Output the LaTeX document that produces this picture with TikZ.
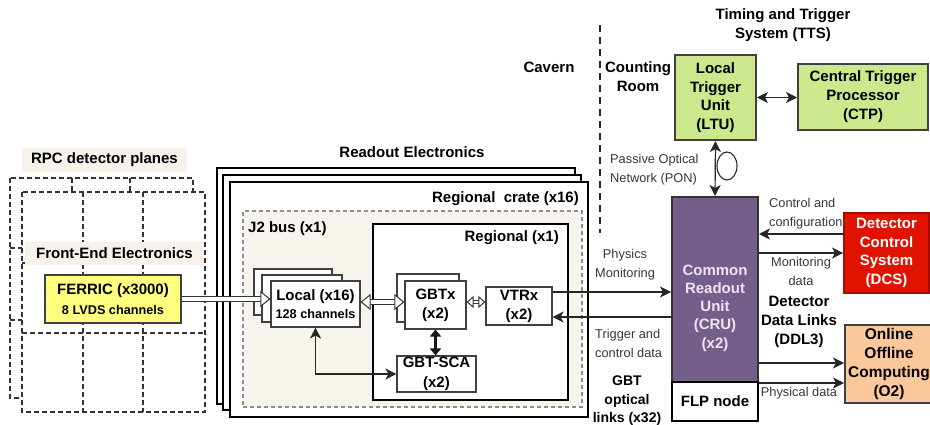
\documentclass[tikz,border=0pt]{standalone}
\usepackage{fontspec}
\setmainfont{Liberation Sans}
\usetikzlibrary{arrows.meta}
\definecolor{beige}{RGB}{246,242,234}
\definecolor{jbeige}{RGB}{247,244,237}
\definecolor{ltugreen}{RGB}{205,232,140}
\definecolor{crupurple}{RGB}{116,94,138}
\definecolor{crutext}{RGB}{236,228,246}
\definecolor{dcsred}{RGB}{224,18,0}
\definecolor{dcsborder}{RGB}{170,10,0}
\definecolor{opeach}{RGB}{250,200,155}
\definecolor{ferricy}{RGB}{255,255,128}
\definecolor{txtgray}{RGB}{55,55,55}
\newcommand\mybf{\fontsize{15}{19}\selectfont\bfseries}
\newcommand\myrg{\fontsize{12.8}{19}\selectfont}
\newcommand\mysm{\fontsize{12.7}{18}\selectfont\bfseries}
\tikzset{
  HTip/.tip={Triangle[length=10pt,width=16pt,color=black!80,fill=white,line width=1pt]},
  STip/.tip={Triangle[length=7pt,width=12pt,color=black!80,fill=white,line width=1pt]},
  ATip/.tip={Stealth[length=11pt,width=11pt,inset=3pt]},
}
\begin{document}
\begin{tikzpicture}[x=1pt,y=-1pt,
  sz/.style 2 args={minimum width=#1, minimum height=#2},
  rpc/.style={draw=black!80, line width=1.1pt, dash pattern=on 5pt off 3pt},
  lbg/.style={fill=beige, inner sep=0pt, font=\mybf},
  crate/.style={draw=black, line width=2.5pt, fill=white, inner sep=0pt},
  thinbox/.style={draw=black!75, line width=1.1pt, fill=white, inner sep=0pt, align=center, font=\mybf},
  colbox/.style={draw=black!75, line width=2pt, inner sep=0pt, align=center, font=\mybf},
  lab/.style={inner sep=0pt, align=center, font=\mybf},
  rlab/.style={inner sep=0pt, font=\myrg, text=txtgray},
  arr/.style={draw=black!85, line width=1.2pt, -{ATip}},
  arrb/.style={draw=black!85, line width=1.2pt, {ATip}-{ATip}},
  dbl/.style={draw=black!80, double=white, double distance=3.5pt, line width=1pt},
  otip/.style={white, line width=1pt},
]
\useasboundingbox (0,0) rectangle (930,425);

% ---------------- RPC detector planes ----------------
\draw[rpc] (10,178) rectangle (193,398);
\draw[rpc] (72,178) -- (72,398) (130,178) -- (130,398) (10,248) -- (193,248) (10,320) -- (193,320);
\draw[rpc, fill=white] (22,192) rectangle (205,412);
\draw[rpc] (83,192) -- (83,412) (143,192) -- (143,412) (22,263) -- (205,263) (22,333) -- (205,333);

\node[lbg, sz={165}{24}] (rpclab) at (104.5,160) {RPC detector planes};
\node[lbg, sz={179}{23}] (felab) at (114.5,253.5) {Front-End Electronics};
\node[colbox, fill=ferricy, sz={136}{48}, font=\fontsize{15}{20}\selectfont\bfseries] (ferric) at (113,299)
  {FERRIC (x3000)\\{\mysm 8 LVDS channels}};

% ---------------- Readout electronics ----------------
\node[lab] (rolab) at (412,152) {Readout Electronics};
\node[crate, sz={358}{236}] (crate1) at (396,286) {};
\node[crate, sz={358}{235}] (crate2) at (402,292.5) {};
\node[crate, sz={358}{235}] (crate3) at (409,299.5) {};
\node[lab, anchor=east] (cratelab) at (579,199) {Regional\ \ crate (x16)};

\node[draw=black!45, line width=1.1pt, dash pattern=on 4pt off 3pt, fill=jbeige, sz={339}{196}, inner sep=0pt] (j2) at (412.5,309) {};
\node[lab, anchor=west] (j2lab) at (248,229) {J2 bus (x1)};

\node[draw=black, line width=2.5pt, fill=white, sz={195}{176}, inner sep=0pt] (regional) at (470.5,312) {};
\node[lab, anchor=east] (reglab) at (559,238) {Regional (x1)};

% Local stack
\node[thinbox, sz={78}{46}] (localb) at (293,292) {};
\node[thinbox, sz={80}{47}] (localm) at (302,298.5) {};
\node[thinbox, sz={89}{46}, font=\fontsize{15}{18}\selectfont\bfseries] (localf) at (315.5,304)
  {Local (x16)\\{\mysm 128 channels}};

% GBTx stack
\node[thinbox, sz={62}{48}] (gbtxb) at (428,298) {};
\node[thinbox, sz={61}{48}] (gbtxf) at (435.5,305) {GBTx\\(x2)};
\node[thinbox, sz={66}{38}] (vtrx) at (519,306) {VTRx\\(x2)};
\node[thinbox, sz={79}{36}, font=\fontsize{15}{20}\selectfont\bfseries] (sca) at (436.5,374) {GBT-SCA\\(x2)};

% ---------------- Counting room ----------------
\draw[draw=black!85, line width=2.5pt, dash pattern=on 7pt off 5pt] (600,25) -- (600,233);
\node[lab] (cavern) at (549,67) {Cavern};
\node[lab] (counting) at (638,76.5) {Counting\\Room};
\node[lab] (tts) at (783,25.5) {Timing and Trigger\\System (TTS)};

\node[colbox, fill=ltugreen, sz={81}{85}, font=\fontsize{15}{18.7}\selectfont\bfseries] (ltu) at (715.5,97.5) {Local\\Trigger\\Unit\\(LTU)};
\node[colbox, fill=ltugreen, sz={130}{66}, font=\fontsize{15}{19}\selectfont\bfseries] (ctp) at (863,97) {Central Trigger\\Processor\\(CTP)};

\node[draw=black!80, line width=2pt, fill=crupurple, sz={86}{185}, inner sep=0pt] (cru) at (715,289.5) {};
\node[lab, text=crutext, font=\fontsize{15}{18.3}\selectfont\bfseries] (crulab) at (715,308) {Common\\Readout\\Unit\\(CRU)\\(x2)};
\node[draw=black, line width=2.5pt, fill=white, sz={86}{39}, inner sep=0pt, font=\mybf] (flp) at (715,401.5) {FLP node};

\node[draw=dcsborder, line width=2pt, fill=dcsred, sz={85}{80}, inner sep=0pt, align=center, text=white, font=\fontsize{15}{18.7}\selectfont\bfseries] (dcs) at (886.5,253) {Detector\\Control\\System\\(DCS)};
\node[colbox, fill=opeach, sz={88}{78}, font=\fontsize{15.5}{18.7}\selectfont\bfseries] (o2) at (889,364) {Online\\Offline\\Computing\\(O2)};

% labels
\node[rlab, align=left, anchor=west] (ponlab) at (610,169.5) {Passive Optical\\Network (PON)};
\node[rlab, align=center] (pmlab) at (625,265) {Physics\\Monitoring};
\node[rlab, align=left, anchor=west] (tclab) at (595,343) {Trigger and\\control data};
\node[lab, font=\fontsize{14}{18.5}\selectfont\bfseries] (gbtlab) at (627,401) {GBT\\optical\\links (x32)};
\node[rlab, align=left, anchor=west] (cclab) at (769,213.5) {Control and\\configuration};
\node[rlab, align=center] (mdlab) at (801,271.5) {Monitoring\\data};
\node[lab] (ddllab) at (799,322) {Detector\\Data Links\\(DDL3)};
\node[rlab] (pdlab) at (799,393) {Physical data};

% helper coordinates (levels)
\coordinate (yLG) at (0,302);
\coordinate (yPM) at (0,292);
\coordinate (yTC) at (0,317);
\coordinate (yCC) at (0,234);
\coordinate (yMD) at (0,253);
\coordinate (yOA) at (0,363);
\coordinate (yOB) at (0,383);

% ---------------- connectors ----------------
% FERRIC -> Local (hollow double arrow)
\draw[dbl, shorten >=9pt] (ferric.east) -- (ferric.east -| localf.west);
\draw[otip, -{HTip}] (ferric.east) -- (ferric.east -| localf.west);
% Local <-> GBTx
\draw[dbl, shorten >=9pt, shorten <=9pt] (localf.east |- yLG) -- (gbtxf.west |- yLG);
\draw[otip, {HTip}-{HTip}] (localf.east |- yLG) -- (gbtxf.west |- yLG);
% GBTx <-> VTRx
\draw[dbl, double distance=2.5pt, shorten >=6pt, shorten <=6pt] (gbtxf.east |- yLG) -- (vtrx.west |- yLG);
\draw[otip, {STip}-{STip}] (gbtxf.east |- yLG) -- (vtrx.west |- yLG);
% GBTx <-> GBT-SCA
\draw[draw=black!90, line width=2.4pt, {Triangle[length=7pt,width=11pt]}-{Triangle[length=7pt,width=11pt]}] (gbtxf.south) -- (gbtxf.south |- sca.north);
% Local <-> GBT-SCA
\draw[arrb] (localf.south) |- (sca.west);
% VTRx <-> CRU
\draw[arr] (vtrx.east |- yPM) -- (cru.west |- yPM);
\draw[arr] (cru.west |- yTC) -- (vtrx.east |- yTC);
% LTU links
\draw[arrb] (ltu.south) -- (cru.north);
\draw[arrb] (ltu.east) -- (ltu.east -| ctp.west);
\draw[draw=black!85, line width=1.1pt] (727,166) ellipse [x radius=10pt, y radius=14pt];
% DCS
\draw[arr] (dcs.west |- yCC) -- (cru.east |- yCC);
\draw[arr] (cru.east |- yMD) -- (dcs.west |- yMD);
% O2
\draw[arr] (cru.east |- yOA) -- (o2.west |- yOA);
\draw[arr] (cru.east |- yOB) -- (o2.west |- yOB);
\end{tikzpicture}
\end{document}
